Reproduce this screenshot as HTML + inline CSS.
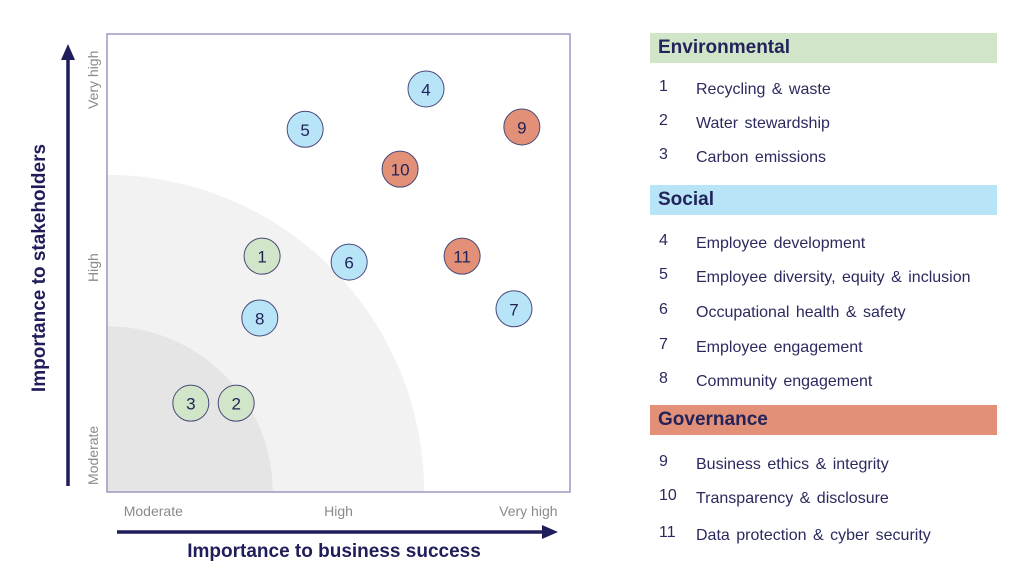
<!DOCTYPE html>
<html><head><meta charset="utf-8"><style>
html,body{margin:0;width:1024px;height:576px;overflow:hidden}
body{background:#fff;font-family:"Liberation Sans",sans-serif;position:relative}
.hd{position:absolute;left:650px;width:347px;height:30px;font-weight:bold;font-size:19px;color:#23235a;line-height:30px;box-sizing:border-box;padding-left:8px}
.it{position:absolute;left:659px;font-size:16px;color:#2a2a5e;white-space:nowrap;line-height:18px}
.it span{position:absolute;left:37px;top:3px;word-spacing:2px}
</style></head><body>
<svg width="640" height="576" style="position:absolute;left:0;top:0" font-family="Liberation Sans, sans-serif">
<defs><clipPath id="pc"><rect x="107" y="34" width="463" height="458"/></clipPath></defs>
<g id="bg" clip-path="url(#pc)"></g>
<rect x="107" y="34" width="463" height="458" fill="none" stroke="#9a98bf" stroke-width="1.5"/>
<g id="marks"></g>
<line x1="68" y1="486" x2="68" y2="58" stroke="#1f1d5a" stroke-width="3.5"/>
<polygon points="61,60 75,60 68,44" fill="#1f1d5a"/>
<line x1="117" y1="532" x2="544" y2="532" stroke="#1f1d5a" stroke-width="3.5"/>
<polygon points="542,525 542,539 558,532" fill="#1f1d5a"/>
<g id="ticks" fill="#8a8a8a" font-size="14"></g>
<text x="334" y="557" text-anchor="middle" font-size="19" font-weight="bold" fill="#1f1d5a">Importance to business success</text>
<text transform="translate(45,268) rotate(-90)" text-anchor="middle" font-size="19" font-weight="bold" fill="#1f1d5a">Importance to stakeholders</text>
</svg>
<div class="hd" style="top:33px;background:#d1e5c9">Environmental</div>
<div class="hd" style="top:185px;background:#b8e4f8">Social</div>
<div class="hd" style="top:405px;background:#e29078">Governance</div>
<div id="legend"></div>
<script>
const ids=[1,2,3,4,5,6,7,8,9,10,11];
const xVals=[3.35,2.79,1.81,6.89,4.28,5.23,8.79,3.30,8.96,6.33,7.67];
const yVals=[5.15,1.94,1.94,8.80,7.92,5.02,4.00,3.80,7.97,7.05,5.15];
const groups=["E","E","E","S","S","S","S","S","G","G","G"];
const names=["Recycling & waste","Water stewardship","Carbon emissions","Employee development","Employee diversity, equity & inclusion","Occupational health & safety","Employee engagement","Community engagement","Business ethics & integrity","Transparency & disclosure","Data protection & cyber security"];
const xTicks=["Moderate","High","Very high"];
const xTickVals=[1,5,9.1];
const yTickVals=[0.8,4.9,9.0];
const zones=[6.85,3.58];
const X0=107,Y0=492,W=463,H=458;
const sx=v=>X0+v/10*W, sy=v=>Y0-v/10*H;
const ns="http://www.w3.org/2000/svg";
const col={E:"#d1e5c9",S:"#b8e4f8",G:"#e29078"};
const bg=document.getElementById('bg');
const zc=["#f2f2f2","#e5e5e5"];
zones.forEach((z,i)=>{const c=document.createElementNS(ns,'ellipse');


c.setAttribute('cx',X0);c.setAttribute('cy',Y0);c.setAttribute('rx',sx(z)-X0);c.setAttribute('ry',(sx(z)-X0));c.setAttribute('fill',zc[i]);bg.appendChild(c);});
const m=document.getElementById('marks');
ids.forEach((id,i)=>{const g=document.createElementNS(ns,'g');


const c=document.createElementNS(ns,'circle');c.setAttribute('cx',sx(xVals[i]));c.setAttribute('cy',sy(yVals[i]));c.setAttribute('r',18);c.setAttribute('fill',col[groups[i]]);c.setAttribute('stroke','#4a4a7a');c.setAttribute('stroke-width','1');g.appendChild(c);
const t=document.createElementNS(ns,'text');t.setAttribute('x',sx(xVals[i]));t.setAttribute('y',sy(yVals[i])+6.5);t.setAttribute('text-anchor','middle');t.setAttribute('font-size','17');t.setAttribute('fill','#23235a');t.textContent=id;g.appendChild(t);m.appendChild(g);});
const tk=document.getElementById('ticks');
xTicks.forEach((l,i)=>{const t=document.createElementNS(ns,'text');


t.setAttribute('x',sx(xTickVals[i]));t.setAttribute('y',516);t.setAttribute('text-anchor','middle');t.textContent=l;tk.appendChild(t);
const u=document.createElementNS(ns,'text');


u.setAttribute('transform','translate(98,'+sy(yTickVals[i])+') rotate(-90)');u.setAttribute('text-anchor','middle');u.textContent=l;tk.appendChild(u);});
const rowY=[78,112,146,232,266,301,336,370,453,487,524];
const lg=document.getElementById('legend');
ids.forEach((id,i)=>{const d=document.createElement('div');d.className='it';


d.style.top=rowY[i]+'px';d.innerHTML=id+'<span>'+names[i].replace('&','&amp;')+'</span>';lg.appendChild(d);});
</script>
</body></html>
